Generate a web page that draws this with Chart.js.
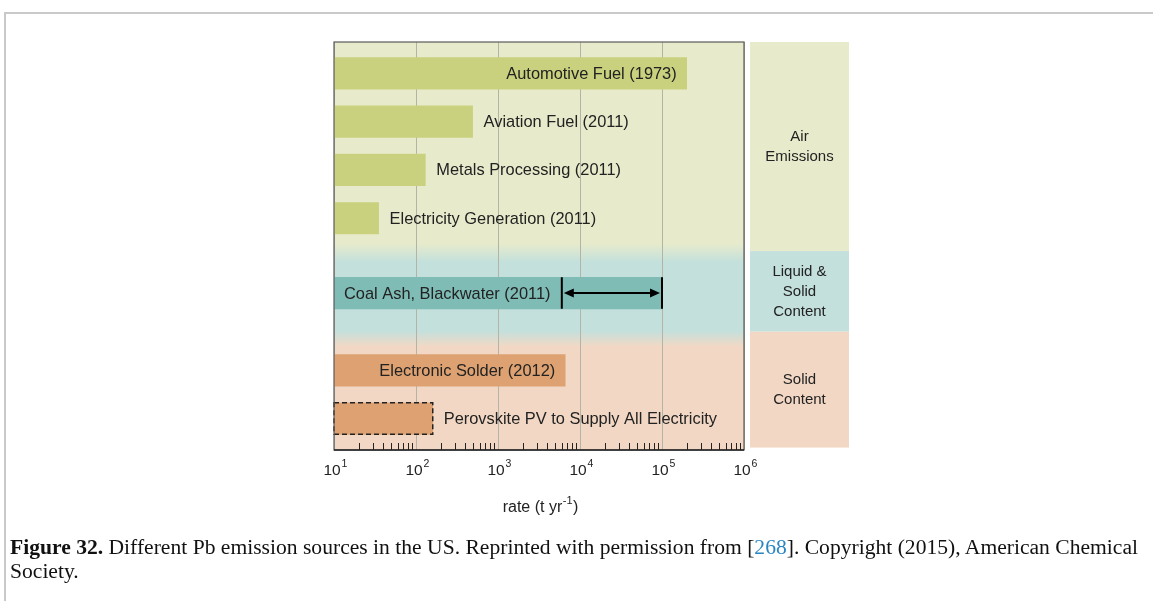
<!DOCTYPE html>
<html>
<head>
<meta charset="utf-8">
<script src="https://cdn.jsdelivr.net/npm/chart.js@4.4.1/dist/chart.umd.min.js"></script>
<style>
	html, body { margin:0; padding:0; background:#fff; }
	body { width:1153px; height:601px; position:relative; overflow:hidden; }
	#frame { position:absolute; left:4px; top:12px; width:1200px; height:620px; border-left:2px solid #c9c9c9; border-top:2px solid #c9c9c9; }
	#chartWrap { position:absolute; left:0; top:0; width:1153px; height:540px; }
	#caption { position:absolute; left:10px; top:535px; font-family:"Liberation Serif", "DejaVu Serif", serif; font-size:20px; line-height:24px; color:#111; white-space:nowrap; transform-origin:0 0; }
	#caption b { font-weight:bold; }
	#caption .ref { color:#2a86c2; }
</style>
</head>
<body>
<div id="frame"></div>
<div id="chartWrap"><canvas id="pbChart" width="1153" height="540"></canvas></div>
<div id="caption"><span id="capLine1"><b>Figure 32.</b> Different Pb emission sources in the US. Reprinted with permission from [<span class="ref">268</span>]. Copyright (2015), American Chemical</span><br>Society.</div>

<script>
	// ------- 데이터 ------------------
	const sourceLabels = [
		"Automotive Fuel (1973)",
		"Aviation Fuel (2011)",
		"Metals Processing (2011)",
		"Electricity Generation (2011)",
		"Coal Ash, Blackwater (2011)",
		"Electronic Solder (2012)",
		"Perovskite PV to Supply All Electricity"
	];
	const rowPos = [0.65, 1.65, 2.65, 3.65, 5.2, 6.8, 7.8];	// 세로 위치 (행 단위)
	const barStart = 10;
	const barEnd = [2.0e5, 490, 130, 35, 1e5, 6600, 160];
	const coalRange = [6000, 1e5];	// Coal Ash 범위 화살표
	const groupNames = [["Air", "Emissions"], ["Liquid &", "Solid", "Content"], ["Solid", "Content"]];
	const groupFrom = [0, 4.33, 6.0];
	const groupTo = [4.33, 6.0, 8.4];
	const decadeTicks = [1, 2, 3, 4, 5, 6];	// 10^n
	const minorMult = [2, 3, 4, 5, 6, 7, 8, 9];

	// ------- 스타일 ------------------
	const barColors = ["#c9d17e", "#c9d17e", "#c9d17e", "#c9d17e", "#7fbcb5", "#dea272", "#dea272"];
	const bandColors = ["#e8ebcb", "#c3e0dc", "#f2d8c4"];
	const labelMode = ["in", "out", "out", "out", "start", "in", "out"];
	const FONT = '"Liberation Sans", Arial, Helvetica, sans-serif';

	// 배경, 라벨, 보조 눈금 등 그리기
	const pbPlugin = {
		id: "pbPlugin",
		beforeDraw(chart) {
			let ctx = chart.ctx, a = chart.chartArea, ys = chart.scales.y;
			let h = a.bottom - a.top;
			let b1 = ys.getPixelForValue(groupTo[0]), b2 = ys.getPixelForValue(groupTo[1]);
			let g = ctx.createLinearGradient(0, a.top, 0, a.bottom);
			const st = (px) => Math.min(1, Math.max(0, (px - a.top) / h));
			g.addColorStop(0, bandColors[0]);
			g.addColorStop(st(b1 - 8), bandColors[0]);
			g.addColorStop(st(b1 + 11), bandColors[1]);
			g.addColorStop(st(b2 - 1), bandColors[1]);
			g.addColorStop(st(b2 + 15), bandColors[2]);
			g.addColorStop(1, bandColors[2]);
			ctx.save();
			ctx.fillStyle = g;
			ctx.fillRect(a.left, a.top, a.right - a.left, h);
			ctx.restore();
		},
		afterDatasetsDraw(chart) {
			let ctx = chart.ctx, a = chart.chartArea, xs = chart.scales.x, ys = chart.scales.y;
			let meta = chart.getDatasetMeta(0);
			ctx.save();

			// Perovskite 점선 테두리
			let pv = meta.data[6].getProps(["x", "y", "base", "height"], true);
			ctx.strokeStyle = "#222";
			ctx.lineWidth = 1.5;
			ctx.setLineDash([5, 3]);
			ctx.strokeRect(pv.base, pv.y - pv.height / 2, pv.x - pv.base, pv.height);
			ctx.setLineDash([]);

			// Coal Ash 범위 화살표
			let ca = meta.data[4].getProps(["x", "y", "base", "height"], true);
			let x1 = xs.getPixelForValue(coalRange[0]), x2 = xs.getPixelForValue(coalRange[1]);
			ctx.strokeStyle = "#000";
			ctx.fillStyle = "#000";
			ctx.lineWidth = 2;
			ctx.beginPath();
			ctx.moveTo(x1, ca.y - ca.height / 2); ctx.lineTo(x1, ca.y + ca.height / 2);
			ctx.moveTo(x2, ca.y - ca.height / 2); ctx.lineTo(x2, ca.y + ca.height / 2);
			ctx.moveTo(x1 + 8, ca.y); ctx.lineTo(x2 - 8, ca.y);
			ctx.stroke();
			ctx.beginPath();
			ctx.moveTo(x1 + 2, ca.y); ctx.lineTo(x1 + 12, ca.y - 4.5); ctx.lineTo(x1 + 12, ca.y + 4.5); ctx.closePath();
			ctx.moveTo(x2 - 2, ca.y); ctx.lineTo(x2 - 12, ca.y - 4.5); ctx.lineTo(x2 - 12, ca.y + 4.5); ctx.closePath();
			ctx.fill();

			// 막대 라벨
			ctx.font = "16.4px " + FONT;
			ctx.fillStyle = "#222";
			ctx.textBaseline = "middle";
			$each(meta.data, (i, el) => {
				let p = el.getProps(["x", "y", "base"], true);
				if (labelMode[i] == "in") {
					ctx.textAlign = "right";
					ctx.fillText(sourceLabels[i], p.x - 10, p.y + 1);
				} else if (labelMode[i] == "start") {
					ctx.textAlign = "left";
					ctx.fillText(sourceLabels[i], p.base + 10, p.y + 1);
				} else {
					ctx.textAlign = "left";
					ctx.fillText(sourceLabels[i], p.x + 11, p.y + 1);
				}
			});

			// 플롯 테두리
			ctx.strokeStyle = "#5a5a5a";
			ctx.lineWidth = 1.2;
			ctx.strokeRect(a.left, a.top, a.right - a.left, a.bottom - a.top);
			ctx.strokeStyle = "#222";
			ctx.lineWidth = 1.6;
			ctx.beginPath(); ctx.moveTo(a.left, a.bottom); ctx.lineTo(a.right, a.bottom); ctx.stroke();

			// 안쪽 보조 눈금
			ctx.lineWidth = 1;
			ctx.beginPath();
			decadeTicks.forEach((d) => {
				if (d >= 6) return;
				minorMult.forEach((m) => {
					let x = Math.round(xs.getPixelForValue(m * Math.pow(10, d))) + 0.5;
					ctx.moveTo(x, a.bottom);
					ctx.lineTo(x, a.bottom - 7);
				});
			});
			ctx.stroke();

			// 눈금 라벨 10^n
			ctx.fillStyle = "#222";
			ctx.textBaseline = "alphabetic";
			decadeTicks.forEach((d) => {
				let x = xs.getPixelForValue(Math.pow(10, d));
				ctx.font = "15.5px " + FONT;
				ctx.textAlign = "center";
				ctx.fillText("10", x - 2, a.bottom + 25);
				let w = ctx.measureText("10").width;
				ctx.font = "10.5px " + FONT;
				ctx.textAlign = "left";
				ctx.fillText(String(d), x - 2 + w / 2 + 1, a.bottom + 17);
			});

			// 축 제목 rate (t yr^-1)
			let t1 = "rate (t yr", t3 = ")";
			ctx.font = "11px " + FONT;
			let w2 = ctx.measureText("-1").width;
			ctx.font = "16px " + FONT;
			let w1 = ctx.measureText(t1).width, w3 = ctx.measureText(t3).width;
			let cx = (a.left + a.right) / 2;
			let sx = cx - (w1 + w2 + w3) / 2 + 1;
			let ty = a.bottom + 62;
			ctx.textAlign = "left";
			ctx.fillText(t1, sx, ty);
			ctx.fillText(t3, sx + w1 + w2 + 1, ty);
			ctx.font = "11px " + FONT;
			ctx.fillText("-1", sx + w1 + 0.5, ty - 8);

			// 오른쪽 구분 패널
			let px = a.right + 6, pw = 99;
			groupNames.forEach((lines, i) => {
				let top = ys.getPixelForValue(groupFrom[i]), bot = ys.getPixelForValue(groupTo[i]);
				ctx.fillStyle = bandColors[i];
				ctx.fillRect(px, top, pw, bot - top);
				ctx.fillStyle = "#222";
				ctx.font = "15px " + FONT;
				ctx.textAlign = "center";
				ctx.textBaseline = "middle";
				let mid = (top + bot) / 2;
				lines.forEach((ln, j) => {
					ctx.fillText(ln, px + pw / 2, mid + (j - (lines.length - 1) / 2) * 20);
				});
			});
			ctx.restore();
		}
	};

	function $each(arr, fn) { for (let i = 0; i < arr.length; i++) fn(i, arr[i]); }

	function DrawPbChart() {
		let data = [];
		$each(sourceLabels, (i, r) => {
			data.push({ x: [barStart, barEnd[i]], y: rowPos[i] });
		});

		new Chart(document.getElementById("pbChart"), {
			type: "bar",
			data: {
				datasets: [{
					label: "Pb",
					data: data,
					backgroundColor: barColors,
					borderWidth: 0,
					borderSkipped: false,
					barThickness: 31.5
				}]
			},
			options: {
				responsive: false,
				animation: false,
				indexAxis: "y",
				layout: { padding: { left: 334, right: 409, top: 42, bottom: 90 } },
				plugins: { legend: { display: false }, tooltip: { enabled: false } },
				scales: {
					x: {
						type: "logarithmic",
						min: 10,
						max: 1e6,
						offset: false,
						ticks: { display: false },
						border: { display: false },
						grid: {
							drawTicks: false,
							offset: false,
							lineWidth: 1,
							color: (c) => {
								let v = c.tick ? c.tick.value : 0;
								let lg = Math.log10(v);
								return (Math.abs(lg - Math.round(lg)) < 1e-6) ? "#b4b4a6" : "rgba(0,0,0,0)";
							}
						},
						afterFit: (s) => { s.height = 0; }
					},
					y: {
						type: "linear",
						reverse: true,
						offset: false,
						min: 0,
						max: 8.45,
						display: false
					}
				}
			},
			plugins: [pbPlugin]
		});
	}	// End of Function : DrawPbChart

	DrawPbChart();

	// 캡션 폭 맞춤
	let cap = document.getElementById("caption");
	let w = document.getElementById("capLine1").getBoundingClientRect().width;
	if (w > 0) cap.style.transform = "scaleX(" + (1128 / w) + ")";
</script>
</body>
</html>
